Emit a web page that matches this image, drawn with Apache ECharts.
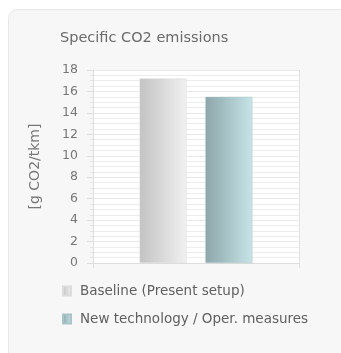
<!DOCTYPE html>
<html>
<head>
<meta charset="utf-8">
<script src="https://cdn.jsdelivr.net/npm/echarts@6/dist/echarts.min.js"></script>
<style>
  html, body { margin: 0; padding: 0; background: #ffffff; }
  #chart { width: 341px; height: 353px; }
</style>
</head>
<body>
<div id="chart"></div>
<script>
// Specific CO2 emissions per scenario, in g CO2 per tonne-km
const titleText = 'Specific CO2 emissions';
const axisName = '[g CO2/tkm]';
const categories = [''];
const seriesNames = ['Baseline (Present setup)', 'New technology / Oper. measures'];
const baselineValues = [17.2];
const newTechValues = [15.5];
const yTicks = [0, 2, 4, 6, 8, 10, 12, 14, 16, 18];

const font = 'DejaVu Sans, Verdana, sans-serif';

function hGrad(from, to) {
  return new echarts.graphic.LinearGradient(0, 0, 1, 0, [
    { offset: 0, color: from },
    { offset: 1, color: to }
  ]);
}
const grey = hGrad('#c3c3c3', '#f0f0f0');
const teal = hGrad('#8da6a9', '#c6e4e8');

const chart = echarts.init(document.getElementById('chart'), null, { renderer: 'canvas' });
chart.setOption({
  animation: false,
  backgroundColor: '#ffffff',
  graphic: [{
    type: 'rect',
    z: -10,
    shape: { x: 8.5, y: 9.5, width: 360, height: 360, r: 9 },
    style: { fill: '#f7f7f7', stroke: '#e8e8e8', lineWidth: 1 }
  }],
  title: {
    text: titleText,
    left: 55,
    top: 26,
    textStyle: { fontFamily: font, fontSize: 14.5, fontWeight: 'normal', color: '#6a6a6a' }
  },
  legend: {
    orient: 'vertical',
    left: 57,
    top: 279,
    itemWidth: 8,
    itemHeight: 9,
    itemGap: 14,
    icon: 'rect',
    textStyle: { fontFamily: font, fontSize: 13.5, color: '#606060', padding: [0, 0, 0, 4] },
    data: seriesNames
  },
  grid: {
    left: 93,
    top: 70,
    width: 206,
    height: 193,
    show: true,
    backgroundColor: '#ffffff',
    borderWidth: 0
  },
  xAxis: {
    type: 'category',
    data: categories,
    axisLine: { show: true, lineStyle: { color: '#dedede' } },
    axisTick: { show: true, length: 5, lineStyle: { color: '#dedede' } },
    axisLabel: { show: false },
    splitLine: { show: true, lineStyle: { color: '#e2e2e2' } }
  },
  yAxis: {
    type: 'value',
    min: yTicks[0],
    max: yTicks[yTicks.length - 1],
    interval: 2,
    name: axisName,
    nameLocation: 'middle',
    nameGap: 51,
    nameRotate: 90,
    nameTextStyle: { fontFamily: font, fontSize: 14, color: '#777777' },
    axisLine: { show: true, lineStyle: { color: '#dedede' } },
    axisTick: { show: true, length: 6, lineStyle: { color: '#dedede' } },
    minorTick: { show: true, splitNumber: 4, length: 3, lineStyle: { color: '#e4e4e4' } },
    axisLabel: { fontFamily: font, fontSize: 12.5, color: '#777777', margin: 15 },
    splitLine: { show: true, lineStyle: { color: '#e9e9e9' } },
    minorSplitLine: { show: true, lineStyle: { color: '#ededed' } }
  },
  series: [
    {
      name: seriesNames[0],
      type: 'bar',
      data: baselineValues,
      barWidth: 47,
      barGap: '40%',
      itemStyle: { color: grey, borderColor: '#dcdcdc', borderWidth: 0.5 }
    },
    {
      name: seriesNames[1],
      type: 'bar',
      data: newTechValues,
      barWidth: 47,
      barGap: '40%',
      itemStyle: { color: teal, borderColor: '#a9c4c7', borderWidth: 0.5 }
    }
  ]
});
</script>
</body>
</html>
